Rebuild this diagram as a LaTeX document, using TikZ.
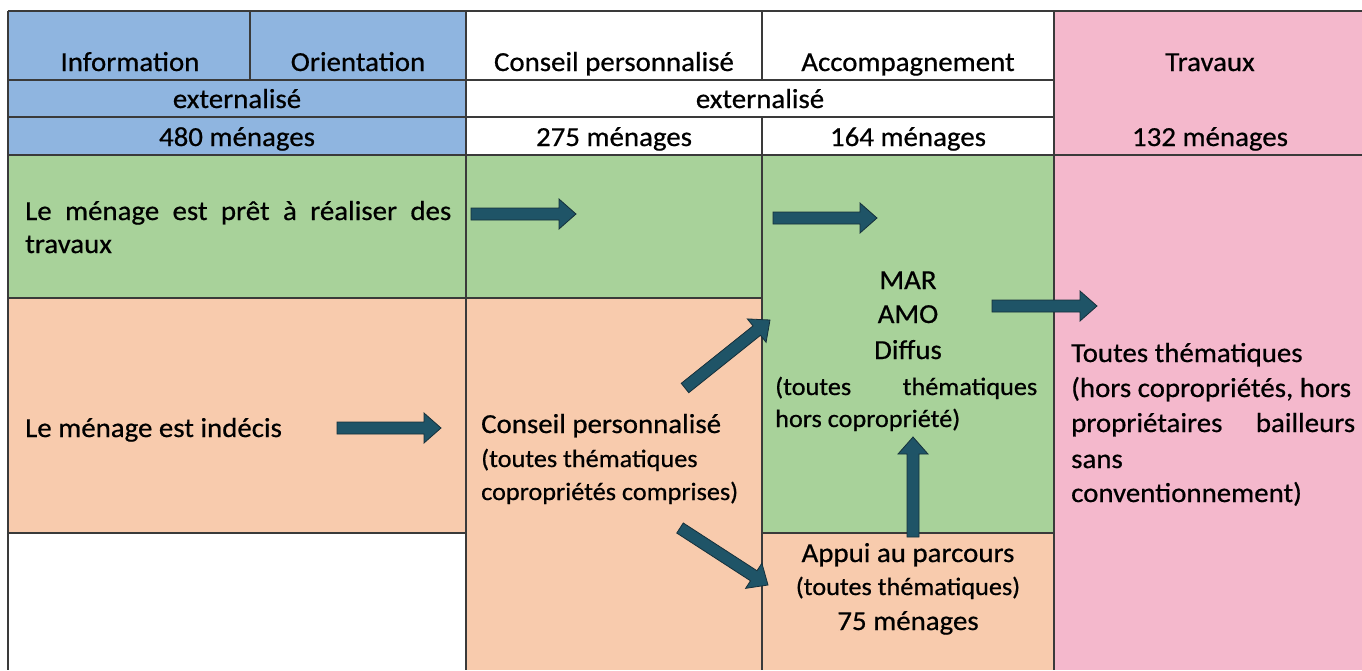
\documentclass[tikz,border=0pt]{standalone}
\usepackage{fontspec}
\setmainfont{Carlito}[FakeStretch=1.05,FakeBold=0.6]
\usetikzlibrary{calc}
\definecolor{cblue}{HTML}{8FB5E0}
\definecolor{cgreen}{HTML}{A8D29A}
\definecolor{corange}{HTML}{F8CBAD}
\definecolor{cpink}{HTML}{F4B8CC}
\definecolor{cline}{HTML}{3A3A3A}
\definecolor{carrow}{HTML}{1F5467}
\definecolor{carrowd}{HTML}{15303B}
\tikzset{
  grid/.style={draw=cline, line width=1.1pt},
  txt/.style={inner sep=0pt, anchor=base},
  ltxt/.style={inner sep=0pt, anchor=base west},
  small/.style={font=\fontsize{25}{30}\selectfont},
  arrowsty/.style={fill=carrow, draw=carrowd, line width=0.8pt, line join=miter},
}
\newcommand\blkarrow[2]{%
  \coordinate (hb) at ($(#2)!17pt!(#1)$);
  \filldraw[arrowsty] ($(#1)!6pt!90:(#2)$) -- ($(hb)!6pt!-90:(#1)$) -- ($(hb)!15pt!-90:(#1)$) -- (#2)
    -- ($(hb)!15pt!90:(#1)$) -- ($(hb)!6pt!90:(#1)$) -- ($(#1)!6pt!-90:(#2)$) -- cycle;}
\begin{document}
\begin{tikzpicture}[x=1pt,y=-1pt,font=\fontsize{27.5}{33}\selectfont]
\useasboundingbox (0,0) rectangle (1362,670);
% fills
\fill[white] (0,0) rectangle (1362,670);
\fill[cblue] (8,11) rectangle (466,155);
\fill[cpink] (1054,11) rectangle (1362,670);
\fill[cgreen] (8,155) rectangle (762,298);
\fill[cgreen] (762,155) rectangle (1054,533);
\fill[corange] (8,298) rectangle (466,533);
\fill[corange] (466,298) rectangle (762,670);
\fill[corange] (762,533) rectangle (1054,670);
% grid lines
\draw[grid] (8,11) -- (1362,11);
\draw[grid] (8,11) -- (8,670);
\draw[grid] (8,80) -- (1054,80);
\draw[grid] (250,11) -- (250,80);
\draw[grid] (8,117) -- (1054,117);
\draw[grid] (8,155) -- (1362,155);
\draw[grid] (466,11) -- (466,670);
\draw[grid] (762,11) -- (762,80);
\draw[grid] (762,117) -- (762,670);
\draw[grid] (1054,11) -- (1054,670);
\draw[grid] (8,298) -- (762,298);
\draw[grid] (8,533) -- (466,533);
\draw[grid] (762,533) -- (1054,533);
% header texts
\node[txt] (hinfo) at (130,71) {Information};
\node[txt] (horient) at (358,71) {Orientation};
\node[txt] (hconseil) at (614,71) {Conseil personnalisé};
\node[txt] (haccomp) at (908,71) {Accompagnement};
\node[txt] (htrav) at (1210,71) {Travaux};
\node[txt] (ext1) at (237,108) {externalisé};
\node[txt] (ext2) at (760,108) {externalisé};
\node[txt] (n480) at (237,146) {480 ménages};
\node[txt] (n275) at (614,146) {275 ménages};
\node[txt] (n164) at (908,146) {164 ménages};
\node[txt] (n132) at (1210,146) {132 ménages};
% left column
\node[ltxt] (pret1) at (25,220) {\makebox[426pt][s]{Le ménage est prêt à réaliser des}};
\node[ltxt] (pret2) at (25,253) {travaux};
\node[ltxt] (indecis) at (25,437) {Le ménage est indécis};
% conseil column
\node[ltxt] (cp1) at (481,433) {Conseil personnalisé};
\node[ltxt,small] (cp2) at (481,467) {(toutes thématiques};
\node[ltxt,small] (cp3) at (481,500) {copropriétés comprises)};
% accompagnement column
\node[txt] (mar) at (908,289) {MAR};
\node[txt] (amo) at (908,323) {AMO};
\node[txt] (diffus) at (908,359) {Diffus};
\node[ltxt,small] (tt1) at (775,395) {\makebox[262pt][s]{(toutes thématiques}};
\node[ltxt,small] (tt2) at (775,427) {hors copropriété)};
\node[txt] (ap1) at (908,562) {Appui au parcours};
\node[txt,small] (ap2) at (908,595) {(toutes thématiques)};
\node[txt] (ap3) at (908,630) {75 ménages};
% travaux column
\node[ltxt] (tr1) at (1071,362) {Toutes thématiques};
\node[ltxt] (tr2) at (1071,397) {(hors copropriétés, hors};
\node[ltxt] (tr3) at (1071,432) {\makebox[284pt][s]{propriétaires bailleurs}};
\node[ltxt] (tr4) at (1071,468) {sans};
\node[ltxt] (tr5) at (1071,502) {conventionnement)};
% arrows
\coordinate (a1s) at (471,214); \coordinate (a1e) at (576,214);
\coordinate (a2s) at (773,218); \coordinate (a2e) at (877,218);
\coordinate (a3s) at (337,428); \coordinate (a3e) at (441,428);
\coordinate (a4s) at (685,388); \coordinate (a4e) at (770,320);
\coordinate (a5s) at (680,528); \coordinate (a5e) at (768,585);
\coordinate (a6s) at (913,537); \coordinate (a6e) at (913,437);
\coordinate (a7s) at (992,306); \coordinate (a7e) at (1097,306);
\blkarrow{a1s}{a1e}
\blkarrow{a2s}{a2e}
\blkarrow{a3s}{a3e}
\blkarrow{a4s}{a4e}
\blkarrow{a5s}{a5e}
\blkarrow{a6s}{a6e}
\blkarrow{a7s}{a7e}
\end{tikzpicture}
\end{document}
